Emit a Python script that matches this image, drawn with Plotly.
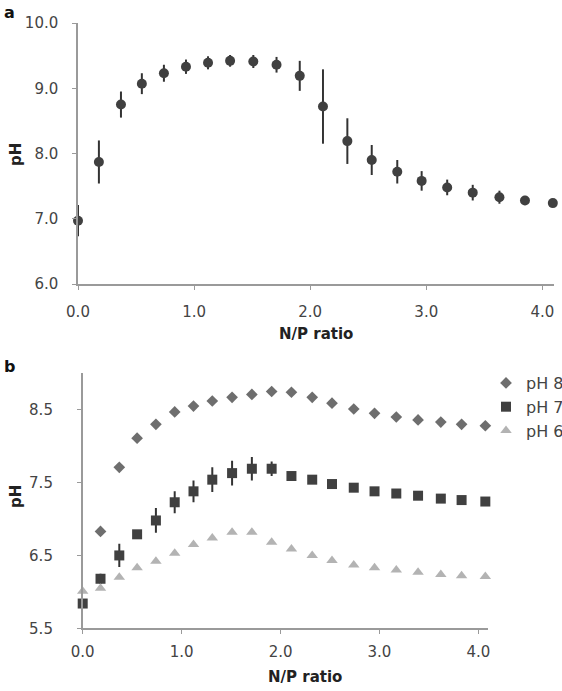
import plotly.graph_objects as go

# Panel a data
np_a = [0.0, 0.18, 0.37, 0.55, 0.74, 0.93, 1.12, 1.31, 1.51, 1.71, 1.91,
        2.11, 2.32, 2.53, 2.75, 2.96, 3.18, 3.40, 3.63, 3.85, 4.09]
ph_a = [6.97, 7.87, 8.75, 9.07, 9.23, 9.33, 9.39, 9.42, 9.41, 9.36, 9.19,
        8.72, 8.19, 7.90, 7.72, 7.58, 7.48, 7.40, 7.33, 7.28, 7.24]
err_a = [0.24, 0.33, 0.20, 0.16, 0.13, 0.11, 0.10, 0.09, 0.10, 0.12, 0.23,
         0.57, 0.35, 0.23, 0.18, 0.15, 0.12, 0.12, 0.10, 0.07, 0.06]

# Panel b data
np_b = [0.0, 0.18, 0.37, 0.55, 0.74, 0.93, 1.12, 1.31, 1.51, 1.71, 1.91,
        2.11, 2.32, 2.52, 2.74, 2.95, 3.17, 3.39, 3.62, 3.83, 4.07]
ph8 = [None, 6.83, 7.71, 8.11, 8.30, 8.47, 8.55, 8.62, 8.67, 8.71, 8.75,
       8.74, 8.67, 8.59, 8.51, 8.45, 8.40, 8.36, 8.33, 8.30, 8.28]
ph7 = [5.84, 6.18, 6.50, 6.79, 6.98, 7.23, 7.38, 7.54, 7.63, 7.69, 7.69,
       7.59, 7.54, 7.48, 7.43, 7.38, 7.35, 7.32, 7.28, 7.26, 7.24]
err7 = [0.05, 0.07, 0.16, 0.0, 0.17, 0.15, 0.15, 0.17, 0.17, 0.16, 0.10,
        0.0, 0.0, 0.0, 0.0, 0.0, 0.0, 0.0, 0.0, 0.0, 0.0]
ph6 = [6.01, 6.05, 6.20, 6.33, 6.42, 6.53, 6.65, 6.74, 6.82, 6.82, 6.68,
       6.59, 6.50, 6.43, 6.37, 6.33, 6.30, 6.27, 6.24, 6.22, 6.21]

series_names = ["pH 8", "pH 7", "pH 6"]
xticks = [0, 1, 2, 3, 4]
xticklabels = ["0.0", "1.0", "2.0", "3.0", "4.0"]
yticks_a = [6, 7, 8, 9, 10]
yticklabels_a = ["6.0", "7.0", "8.0", "9.0", "10.0"]
yticks_b = [5.5, 6.5, 7.5, 8.5]
yticklabels_b = ["5.5", "6.5", "7.5", "8.5"]

W, H = 562, 691
FONT = "DejaVu Sans"
TXT = "#444444"
AX = "#9a9a9a"

fig = go.Figure()

fig.add_trace(go.Scatter(
    x=np_a, y=ph_a, mode="markers", showlegend=False, cliponaxis=False,
    marker=dict(symbol="circle", size=10, color="#404040"),
    error_y=dict(type="data", array=err_a, color="#333333", thickness=2, width=0),
    xaxis="x", yaxis="y"))

fig.add_trace(go.Scatter(
    x=np_b, y=ph8, mode="markers", name=series_names[0], cliponaxis=False,
    marker=dict(symbol="diamond", size=9, color="#6e6e6e"),
    xaxis="x2", yaxis="y2"))
fig.add_trace(go.Scatter(
    x=np_b, y=ph7, mode="markers", name=series_names[1], cliponaxis=False,
    marker=dict(symbol="square", size=10, color="#404040"),
    error_y=dict(type="data", array=err7, color="#333333", thickness=2, width=0),
    xaxis="x2", yaxis="y2"))
fig.add_trace(go.Scatter(
    x=np_b, y=ph6, mode="markers", name=series_names[2], cliponaxis=False,
    marker=dict(symbol="triangle-up", size=10, color="#b3b3b3"),
    xaxis="x2", yaxis="y2"))

common_x = dict(range=[0, 4.1], tickvals=xticks, ticktext=xticklabels,
                showgrid=False, zeroline=False, showline=True, linecolor=AX,
                linewidth=1.5, ticks="outside", ticklen=4, tickcolor=AX,
                automargin=False,
                tickfont=dict(family=FONT, size=15, color=TXT))
common_y = dict(showgrid=False, zeroline=False, showline=True, linecolor=AX,
                linewidth=1.5, ticks="outside", ticklen=4, tickcolor=AX,
                automargin=False,
                tickfont=dict(family=FONT, size=15, color=TXT))

fig.update_layout(
    template="none",
    width=W, height=H,
    margin=dict(l=0, r=0, t=0, b=0, pad=0, autoexpand=False),
    paper_bgcolor="white", plot_bgcolor="white",
    xaxis=dict(domain=[78/W, 554/W], anchor="y", ticklabelstandoff=9, **common_x),
    yaxis=dict(domain=[1-284/H, 1-23/H], anchor="x", range=[6, 10],
               tickvals=yticks_a, ticktext=yticklabels_a, ticklabelstandoff=11, **common_y),
    xaxis2=dict(domain=[82.7/W, 488.3/W], anchor="y2", ticklabelstandoff=5, **common_x),
    yaxis2=dict(domain=[1-628.3/H, 1-373.3/H], anchor="x2", range=[5.5, 9.0],
                tickvals=yticks_b, ticktext=yticklabels_b, ticklabelstandoff=21, **common_y),
    legend=dict(x=486/W, y=1-366/H, xanchor="left", yanchor="top",
                font=dict(family=FONT, size=16, color=TXT),
                bgcolor="rgba(0,0,0,0)", borderwidth=0, itemwidth=30, tracegroupgap=0),
    showlegend=True,
)

bold = dict(family=FONT, size=15, color="#222222")
annos = [
    dict(text="<b>a</b>", x=2/W, y=1-1/H, xanchor="left", yanchor="top",
         font=dict(family=FONT, size=16, color="#111111")),
    dict(text="<b>b</b>", x=2/W, y=1-366/H, xanchor="left", yanchor="middle",
         font=dict(family=FONT, size=16, color="#111111")),
    dict(text="<b>pH</b>", x=16/W, y=1-155/H, textangle=-90, xanchor="center",
         yanchor="middle", font=bold),
    dict(text="<b>pH</b>", x=16/W, y=1-497/H, textangle=-90, xanchor="center",
         yanchor="middle", font=bold),
    dict(text="<b>N/P ratio</b>", x=316/W, y=1-334/H, xanchor="center",
         yanchor="middle", font=bold),
    dict(text="<b>N/P ratio</b>", x=305/W, y=1-677/H, xanchor="center",
         yanchor="middle", font=bold),
]
for a in annos:
    a.update(xref="paper", yref="paper", showarrow=False)
fig.update_layout(annotations=annos)

fig.write_html("out.html", config={"displayModeBar": False},
               post_script="document.body.style.margin='0';document.body.style.overflow='hidden';")
